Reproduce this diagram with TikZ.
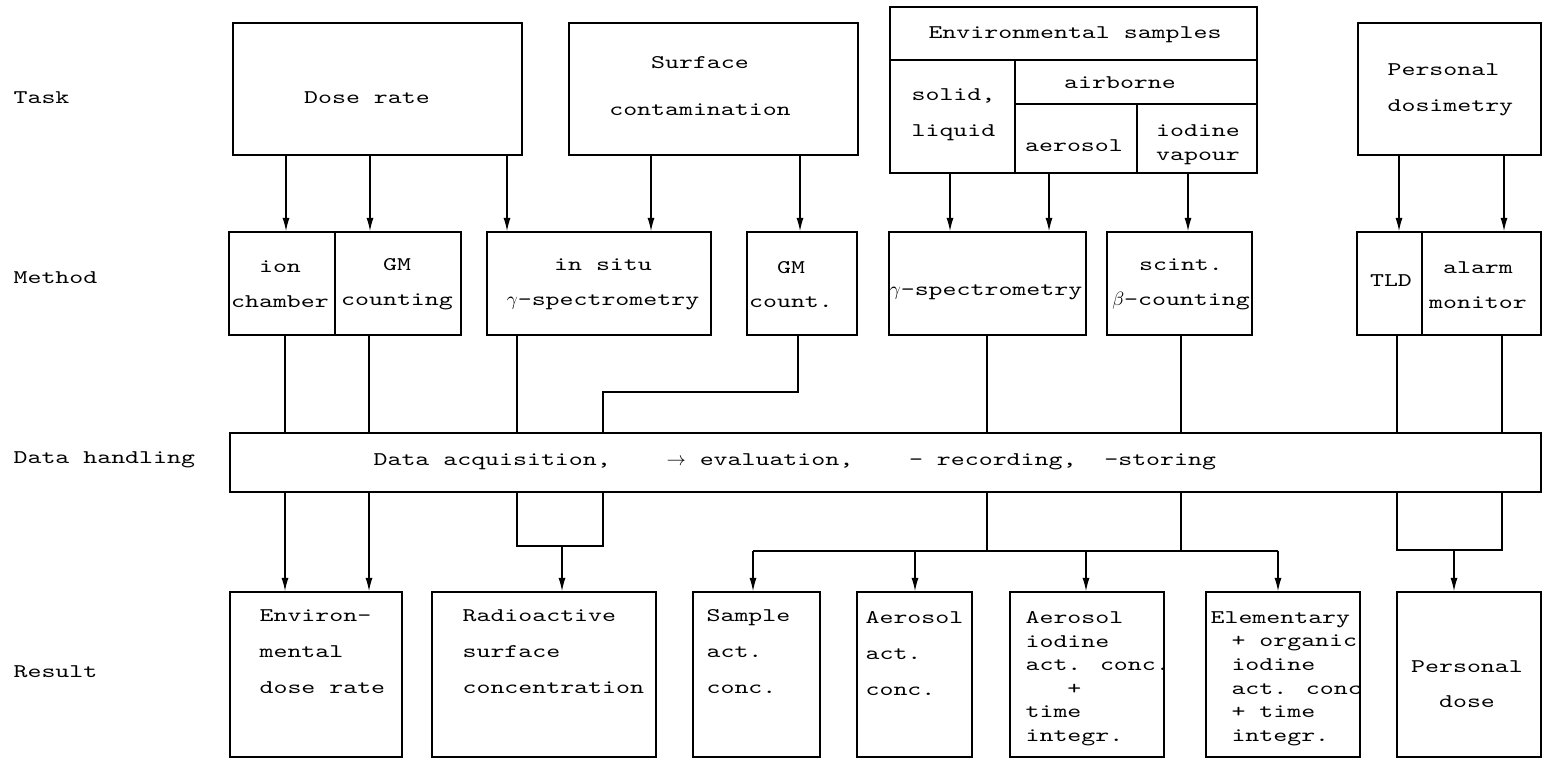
\documentclass[tikz,border=0pt]{standalone}
\usepackage{fontspec}
\newfontfamily\scanfont[FakeStretch=1.375]{lmmono10-regular.otf}
\usetikzlibrary{arrows.meta, positioning}

\begin{document}
\begin{tikzpicture}[x=0.02cm, y=-0.02cm, >={Latex[length=7.5pt, width=4pt]},
  font=\scanfont\fontsize{11}{13}\selectfont, line width=0.7pt,
  box/.style={draw, line width=1pt, inner sep=0pt},
  sz/.style 2 args={minimum width=#1*0.02cm, minimum height=#2*0.02cm},
  lbl/.style={inner sep=0pt, align=center},
  lbll/.style={inner sep=0pt, align=left},
  ls/.style={font=\scanfont\fontsize{11}{#1}\selectfont}]
  \useasboundingbox (0,0) rectangle (1544,761);
  % row labels
  \node[inner sep=0pt, anchor=west] (task) at (13,98) {Task};
  \node[inner sep=0pt, anchor=west] (method) at (13,278) {Method};
  \node[inner sep=0pt, anchor=west] (handling) at (13,460) {Data handling};
  \node[inner sep=0pt, anchor=west] (result) at (13,672) {Result};
  % task boxes
  \node[box, sz={289}{132}] (dose) at (377.5,89) {};
  \node[box, sz={289}{132}] (surf) at (713.5,89) {};
  \node[box, sz={367}{53}] (envhead) at (1073.5,33.5) {};
  \node[box, sz={125}{113}] (solid) at (952.5,116.5) {};
  \node[box, sz={242}{44}] (airb) at (1136,82) {};
  \node[box, sz={122}{69}] (aero) at (1076,138.5) {};
  \node[box, sz={120}{69}] (iod) at (1197,138.5) {};
  \node[box, sz={183}{132}] (pers) at (1449.5,89) {};
  \node[lbl] (dose-t) at (367,98) {Dose rate};
  \node[lbl, ls=27.2pt] (surf-t) at (700,86) {Surface\\contamination};
  \node[lbl] (envhead-t) at (1075,35) {Environmental samples};
  \node[lbll, ls=20.4pt, anchor=west] (solid-t) at (911,115) {solid,\\liquid};
  \node[lbl] (airb-t) at (1120,83) {airborne};
  \node[lbl] (aero-t) at (1074,146) {aerosol};
  \node[lbl, ls=13.6pt] (iod-t) at (1198,145) {iodine\\vapour};
  \node[lbll, ls=20.4pt, anchor=west] (pers-t) at (1387,90) {Personal\\dosimetry};
  % method boxes
  \node[box, sz={106}{103}] (ion) at (282,283.5) {};
  \node[box, sz={126}{103}] (gmc) at (398,283.5) {};
  \node[box, sz={224}{103}] (insitu) at (599,283.5) {};
  \node[box, sz={110}{103}] (gmcount) at (802,283.5) {};
  \node[box, sz={197}{103}] (gspec) at (987.5,283.5) {};
  \node[box, sz={145}{103}] (scint) at (1179.5,283.5) {};
  \node[box, sz={65}{103}] (tld) at (1389.5,283.5) {};
  \node[box, sz={119}{103}] (alarm) at (1481.5,283.5) {};
  \node[lbl, ls=19.8pt] (ion-t) at (280,284.5) {ion\\chamber};
  \node[lbl, ls=19.8pt] (gmc-t) at (397,284.5) {GM\\counting};
  \node[lbl, ls=19.8pt] (insitu-t) at (603,284.5) {in situ\\$\gamma$-spectrometry};
  \node[lbl, ls=19.8pt] (gmcount-t) at (791,284.5) {GM\\count.};
  \node[lbl] (gspec-t) at (986,292) {$\gamma$-spectrometry};
  \node[lbl, ls=19.8pt] (scint-t) at (1181,284.5) {scint.\\$\beta$-counting};
  \node[lbl] (tld-t) at (1391,281) {TLD};
  \node[lbl, ls=19.8pt] (alarm-t) at (1478,285.5) {alarm\\monitor};
  % data handling
  \node[box, sz={1311}{59}] (data) at (885.5,462.5) {};
  \node[inner sep=0pt, anchor=west] (data-t) at (373,462) {Data acquisition,~~~~$\to$ evaluation,~~~~- recording,~~-storing};
  % result boxes
  \node[box, sz={172}{165}] (envdose) at (316,674.5) {};
  \node[box, sz={224}{165}] (radio) at (544,674.5) {};
  \node[box, sz={127}{165}] (sample) at (756.5,674.5) {};
  \node[box, sz={115}{165}] (aeract) at (914.5,674.5) {};
  \node[box, sz={154}{165}] (aeriod) at (1087,674.5) {};
  \node[box, sz={154}{165}] (elem) at (1283,674.5) {};
  \node[box, sz={144}{165}] (persdose) at (1469,674.5) {};
  \node[lbll, ls=20.4pt, anchor=north west] (envdose-t) at (259,609) {Environ-\\mental\\dose rate};
  \node[lbll, ls=20.4pt, anchor=north west] (radio-t) at (462,609) {Radioactive\\surface\\concentration};
  \node[lbll, ls=20.4pt, anchor=north west] (sample-t) at (706,609) {Sample\\act.\\conc.};
  \node[lbll, ls=20.4pt, anchor=north west] (aeract-t) at (865,611) {Aerosol\\act.\\conc.};
  \node[lbll, ls=13.4pt, anchor=north west] (aeriod-t) at (1025,611) {Aerosol\\iodine\\act. conc.\\~~~+\\time\\integr.};
  \node[lbll, ls=13.4pt, anchor=north west] (elem-t) at (1210,611) {Elementary\\\hspace*{11.9pt}+ organic\\\hspace*{11.9pt}iodine\\\hspace*{11.9pt}act. conc\\\hspace*{11.9pt}+ time\\\hspace*{11.9pt}integr.};
  \node[lbl, ls=19.8pt] (persdose-t) at (1467,684.5) {Personal\\dose};
  % task -> method
  \draw[->] (dose.south -| 286,0) -- (ion.north -| 286,0);
  \draw[->] (dose.south -| 370,0) -- (gmc.north -| 370,0);
  \draw[->] (dose.south -| 507,0) -- (insitu.north -| 507,0);
  \draw[->] (surf.south -| 651,0) -- (insitu.north -| 651,0);
  \draw[->] (surf.south -| 800,0) -- (gmcount.north -| 800,0);
  \draw[->] (solid.south -| 950,0) -- (gspec.north -| 950,0);
  \draw[->] (aero.south -| 1049,0) -- (gspec.north -| 1049,0);
  \draw[->] (iod.south -| 1188,0) -- (scint.north -| 1188,0);
  \draw[->] (pers.south -| 1399,0) -- (tld.north -| 1399,0);
  \draw[->] (pers.south -| 1504,0) -- (alarm.north -| 1504,0);
  % method -> data handling
  \coordinate (gmbend) at (603,392);
  \draw (ion.south -| 285,0) -- (data.north -| 285,0);
  \draw (gmc.south -| 369,0) -- (data.north -| 369,0);
  \draw (insitu.south -| 517,0) -- (data.north -| 517,0);
  \draw (gmcount.south -| 798,0) |- (gmbend) -- (data.north -| gmbend);
  \draw (gspec.south -| 987,0) -- (data.north -| 987,0);
  \draw (scint.south -| 1181,0) -- (data.north -| 1181,0);
  \draw (tld.south -| 1397,0) -- (data.north -| 1397,0);
  \draw (alarm.south -| 1502,0) -- (data.north -| 1502,0);
  % data handling -> result
  \draw[->] (data.south -| 285,0) -- (envdose.north -| 285,0);
  \draw[->] (data.south -| 369,0) -- (envdose.north -| 369,0);
  \coordinate (rj) at (562,546);
  \draw (data.south -| 517,0) |- (rj) -| (data.south -| 603,0);
  \draw[->] (rj) -- (radio.north -| rj);
  \coordinate (sl) at (753,551);
  \coordinate (sr) at (1278,551);
  \draw (sl) -- (sr);
  \draw (data.south -| 987,0) -- (sl -| 987,0);
  \draw (data.south -| 1181,0) -- (sl -| 1181,0);
  \draw[->] (sl) -- (sample.north -| sl);
  \draw[->] (sl -| 915,0) -- (aeract.north -| 915,0);
  \draw[->] (sl -| 1086,0) -- (aeriod.north -| 1086,0);
  \draw[->] (sr) -- (elem.north -| sr);
  \coordinate (pj) at (1454,550);
  \draw (data.south -| 1397,0) |- (pj) -| (data.south -| 1502,0);
  \draw[->] (pj) -- (persdose.north -| pj);
\end{tikzpicture}
\end{document}
